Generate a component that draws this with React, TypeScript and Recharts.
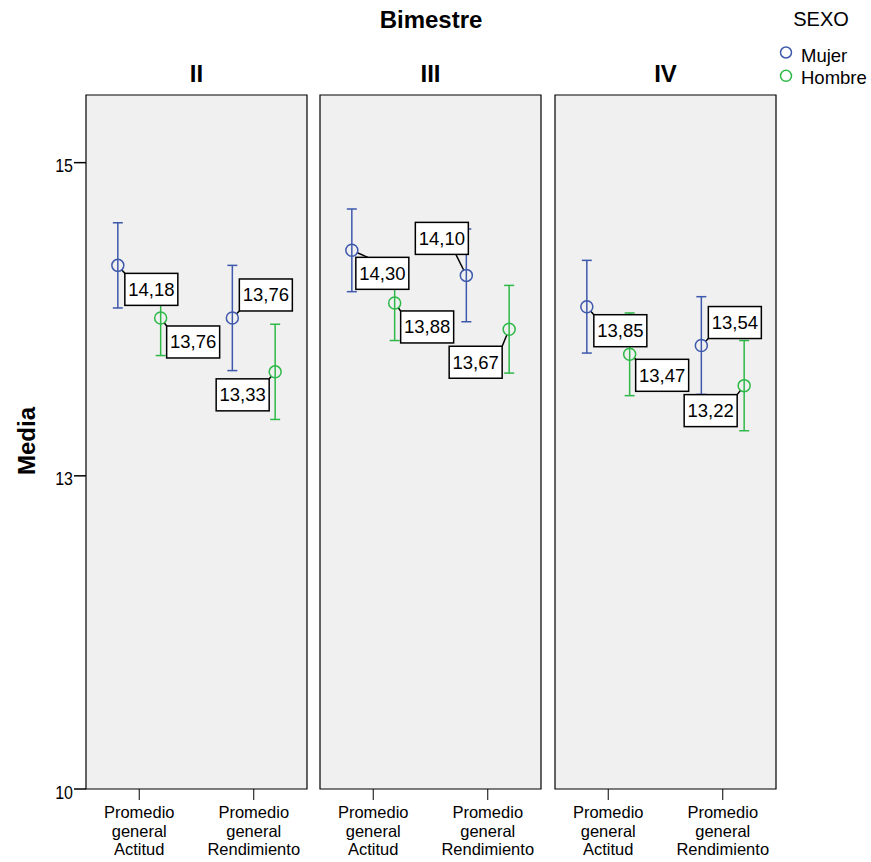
import React from 'react';
import { ScatterChart, Scatter, XAxis, YAxis, ErrorBar, ReferenceArea } from 'recharts';

const PERIODS = ['II', 'III', 'IV'];
const CATEGORIES = ['Promedio general Actitud', 'Promedio general Rendimiento'];
const SEXES = ['Mujer', 'Hombre'];

// medias por bimestre: [Actitud, Rendimiento]
const MUJER_MEAN = [[14.18, 13.76], [14.3, 14.1], [13.85, 13.54]];
const HOMBRE_MEAN = [[13.76, 13.33], [13.88, 13.67], [13.47, 13.22]];
// semiamplitud de las barras de error
const MUJER_ERR = [[0.34, 0.42], [0.33, 0.37], [0.37, 0.39]];
const HOMBRE_ERR = [[0.3, 0.38], [0.3, 0.35], [0.33, 0.36]];

const Y_TICKS = [10, 12.5, 15];
const Y_DOMAIN: [number, number] = [10, 15.54];
const X_DOMAIN: [number, number] = [0.535, 2.465];

// layout
const FONT = '"Liberation Sans", Arial, sans-serif';
const BLUE = '#3E58AC';
const GREEN = '#2EB848';
const PANEL_LEFT = [86, 320, 555];
const PANEL_W = 221;
const SIDE = 45;
const DODGE = 0.187;
const BOX_W = 53;
const BOX_H = 32;
const R = 6;

// label box offset from the point [dx, dy, leaderX?, leaderY?] per period / sex / category
const LABEL_POS = [
  [[[7, 8], [7, -39]], [[6, 8], [-59, 7]]],
  [[[4, 7, 16, 7], [-51, -53, -11, -22]], [[6, 8], [-60, 17]]],
  [[[7, 8], [7, -39]], [[6, 5], [-60, 9]]],
];

const fmt = (v: number) => v.toFixed(2).replace('.', ',');

function ValueLabel(props: any) {
  const { cx, cy, payload } = props;
  if (cx == null || cy == null) return null;
  const [dx, dy, tx, ty] = payload.pos;
  const left = cx + dx;
  const top = cy + dy;
  const px = tx != null ? cx + tx : Math.min(Math.max(cx, left), left + BOX_W);
  const py = ty != null ? cy + ty : Math.min(Math.max(cy, top), top + BOX_H);
  const d = Math.hypot(px - cx, py - cy);
  return (
    <g>
      {d > R + 0.5 && (
        <line
          x1={cx + ((px - cx) / d) * R}
          y1={cy + ((py - cy) / d) * R}
          x2={px}
          y2={py}
          stroke="#000"
          strokeWidth={1.5}
        />
      )}
      <rect x={left} y={top} width={BOX_W} height={BOX_H} fill="#fff" stroke="#000" strokeWidth={1.5} />
      <text
        x={left + BOX_W / 2}
        y={top + BOX_H / 2}
        textAnchor="middle"
        dominantBaseline="central"
        fontSize={18.5}
        fill="#000"
      >
        {fmt(payload.y)}
      </text>
    </g>
  );
}

const ring = (color: string) => (props: any) =>
  props.cx == null ? (
    <g />
  ) : (
    <circle cx={props.cx} cy={props.cy} r={R} fill="none" stroke={color} strokeWidth={1.5} />
  );

function CategoryTick(props: any) {
  const { x, y, payload } = props;
  const lines = CATEGORIES[Math.round(payload.value) - 1].split(' ');
  return (
    <g>
      {lines.map((l, i) => (
        <text key={i} x={x} y={y + 16 + i * 18.7} textAnchor="middle" fontSize={16.5} fill="#000">
          {l}
        </text>
      ))}
    </g>
  );
}

function ValueTick(props: any) {
  const { x, y, payload } = props;
  return (
    <text
      x={0}
      y={0}
      textAnchor="end"
      fontSize={16}
      fill="#000"
      transform={`translate(${x}, ${y + 9.5}) scale(1, 1.2)`}
    >
      {String(Math.round(payload.value))}
    </text>
  );
}

function Panel({ index }: { index: number }) {
  const first = index === 0;
  const rows = (means: number[][], errs: number[][], s: number) =>
    CATEGORIES.map((_, j) => ({
      x: j + 1 + (s === 0 ? -DODGE : DODGE),
      y: means[index][j],
      err: errs[index][j],
      pos: LABEL_POS[index][s][j],
    }));
  const mujer = rows(MUJER_MEAN, MUJER_ERR, 0);
  const hombre = rows(HOMBRE_MEAN, HOMBRE_ERR, 1);
  const left = first ? 0 : PANEL_LEFT[index] - SIDE;
  const width = first ? PANEL_LEFT[0] + PANEL_W + SIDE : SIDE + PANEL_W + SIDE;

  return (
    <div style={{ position: 'absolute', left, top: 0 }}>
      <ScatterChart
        width={width}
        height={862}
        margin={{ top: 95, right: SIDE, bottom: 0, left: first ? 0 : SIDE }}
      >
        <XAxis
          type="number"
          dataKey="x"
          domain={X_DOMAIN}
          allowDataOverflow
          ticks={[1, 2]}
          interval={0}
          height={73}
          tickSize={11}
          axisLine={false}
          tickLine={{ stroke: '#000' }}
          tick={(p: any) => <CategoryTick {...p} />}
        />
        <YAxis
          type="number"
          dataKey="y"
          domain={Y_DOMAIN}
          allowDataOverflow
          ticks={Y_TICKS}
          hide={!first}
          width={86}
          tickSize={12}
          tickMargin={1}
          axisLine={false}
          tickLine={{ stroke: '#000', strokeWidth: 1.5 }}
          tick={(p: any) => <ValueTick {...p} />}
        />
        <ReferenceArea
          x1={X_DOMAIN[0]}
          x2={X_DOMAIN[1]}
          y1={Y_DOMAIN[0]}
          y2={Y_DOMAIN[1]}
          fill="#F0F0F0"
          fillOpacity={1}
          stroke="#000"
          strokeWidth={1.2}
        />
        <Scatter data={[...mujer, ...hombre]} shape={ValueLabel} isAnimationActive={false} />
        <Scatter name={SEXES[0]} data={mujer} shape={ring(BLUE)} isAnimationActive={false}>
          <ErrorBar dataKey="err" direction="y" width={5} stroke={BLUE} strokeWidth={1.5} />
        </Scatter>
        <Scatter name={SEXES[1]} data={hombre} shape={ring(GREEN)} isAnimationActive={false}>
          <ErrorBar dataKey="err" direction="y" width={5} stroke={GREEN} strokeWidth={1.5} />
        </Scatter>
      </ScatterChart>
    </div>
  );
}

export default function App() {
  return (
    <div
      style={{
        position: 'absolute',
        left: 0,
        top: 0,
        width: 871,
        height: 862,
        background: '#fff',
        fontFamily: FONT,
      }}
    >
      {PERIODS.map((_, i) => (
        <Panel key={i} index={i} />
      ))}
      <svg
        width={871}
        height={862}
        style={{ position: 'absolute', left: 0, top: 0, pointerEvents: 'none', fontFamily: FONT }}
      >
        <text x={431} y={28} textAnchor="middle" fontSize={24} fontWeight="bold">
          Bimestre
        </text>
        {PERIODS.map((p, i) => (
          <text key={p} x={PANEL_LEFT[i] + PANEL_W / 2} y={82} textAnchor="middle" fontSize={24} fontWeight="bold">
            {p}
          </text>
        ))}
        <text x={35} y={441} textAnchor="middle" fontSize={24} fontWeight="bold" transform="rotate(-90, 35, 441)">
          Media
        </text>
        <text x={821} y={26} textAnchor="middle" fontSize={20}>
          SEXO
        </text>
        {SEXES.map((s, i) => (
          <g key={s}>
            <circle cx={786} cy={52.5 + i * 23.3} r={5.5} fill="none" stroke={i === 0 ? BLUE : GREEN} strokeWidth={1.5} />
            <text x={801} y={61.5 + i * 22.5} fontSize={18.5}>
              {s}
            </text>
          </g>
        ))}
      </svg>
    </div>
  );
}
